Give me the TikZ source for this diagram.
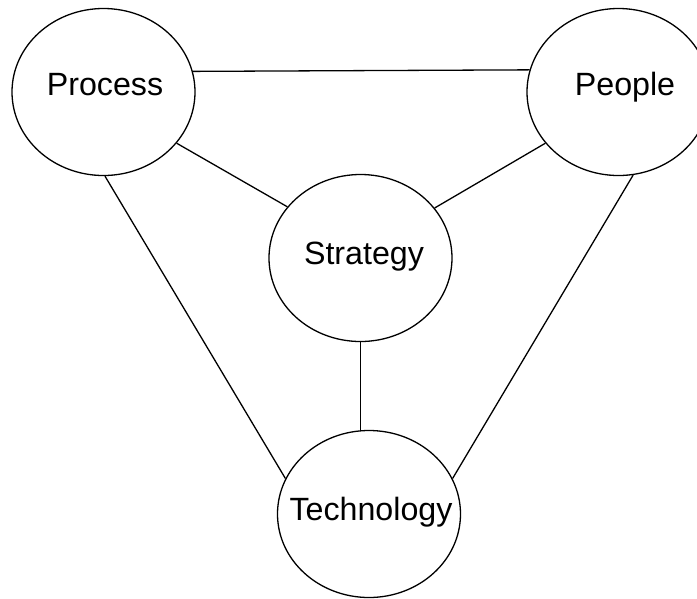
\documentclass[tikz,border=0pt]{standalone}
\usepackage{fontspec}
\setmainfont{Liberation Sans}
\usetikzlibrary{shapes.geometric}
\tikzset{
  bubble/.style={ellipse, draw, line width=1.3pt, minimum width=183pt, minimum height=167pt, inner sep=0pt},
  lbl/.style={anchor=base, inner sep=0pt, font=\fontsize{32.2}{38}\selectfont},
  link/.style={line width=1.3pt}
}
\begin{document}
\begin{tikzpicture}[x=1pt,y=-1pt]
\useasboundingbox (0,0) rectangle (697,598);
\clip (0,0) rectangle (697,598);
\node[bubble] (proc) at (103.5,92) {};
\node[bubble] (peop) at (618.5,92) {};
\node[bubble] (strat) at (360.5,258) {};
\node[bubble] (tech) at (369,514) {};
\node[lbl] (tproc) at (105,95) {Process};
\node[lbl] (tpeop) at (625,95) {People};
\node[lbl] (tstrat) at (364,264) {Strategy};
\node[lbl] (ttech) at (371,520) {Technology};
\draw[link] (proc.13.3) -- (peop.166.7);
\draw[link] (proc.-35.4) -- (strat.145.4);
\draw[link] (peop.215.1) -- (strat.34.6);
\draw[link] (proc.-89) -- (tech.157.1);
\draw[link] (peop.-80.1) -- (tech.23.4);
\draw[link] (strat.south) -- (strat.south |- tech.north);
\end{tikzpicture}
\end{document}
